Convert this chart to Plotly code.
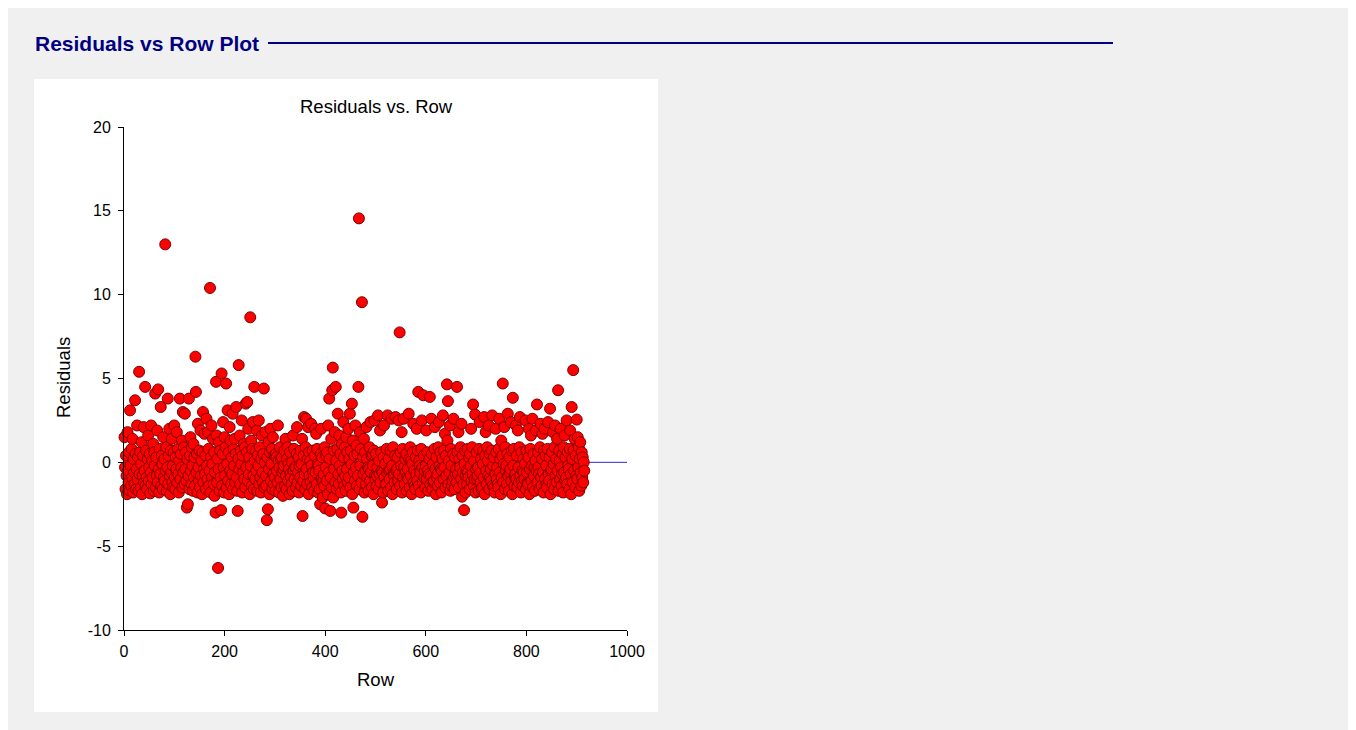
import plotly.graph_objects as go

# Residual for each row (rows 1..915)
residuals = [
    1.5, -0.3, -1.6, 0.4, -0.8, -1.9, 1.8, -0.5, -1.2, 0.6, -1.7, 3.1, -0.2, -1.4, 0.8, -0.9, 1.4, -1.8, 0.2, -0.6,
    -1.3, 3.7, 0.5, -1.6, -0.4, 2.2, -1.0, 0.3, -1.7, 5.4, -0.7, 0.6, -1.5, -0.1, 1.2, -1.9, -0.8, 0.4, 2.1, -1.2,
    -0.5, 4.5, -1.4, 0.7, -0.9, -1.6, 0.2, 1.6, -1.1, -0.3, 0.5, -1.85, -0.6, 2.2, -1.3, 0.1, -0.9, 1.1, -1.7, 0.6,
    -0.2, 4.1, -1.5, 0.3, -0.8, 1.9, -1.2, 4.35, -0.4, -1.8, 0.8, -0.7, 3.3, -1.4, 0.4, -0.1, -1.6, 1.5, -0.9, 0.2,
    -1.1, 13.0, -0.5, 0.9, -1.7, -0.3, 3.8, -1.3, 0.4, 2.0, -0.8, -1.9, 0.7, -0.6, 1.4, -1.2, -0.2, -1.5, 0.6, 2.2,
    -0.9, -1.6, 0.3, -0.4, 1.8, -1.2, 0.8, -0.7, -1.8, 0.1, 3.8, -1.0, 0.5, -0.3, 1.3, -1.5, 3.0, -0.6, 0.9, -1.3,
    2.9, -0.4, 0.6, -1.1, -2.7, 0.2, -2.5, -0.8, 3.8, -1.6, 0.4, 1.5, -0.5, -1.3, 0.9, -0.2, -1.7, 1.1, -0.9, 0.3,
    -1.4, 6.3, 4.2, -0.6, 0.5, -1.8, 2.3, -0.3, -1.1, 0.7, -1.5, 1.9, -0.8, 0.1, -1.9, 0.6, 3.0, -1.2, -0.4, 1.7,
    -0.7, 0.4, -1.6, 2.6, -0.2, -1.0, 1.8, 0.8, -1.4, -0.5, 10.4, -1.8, 0.3, 2.2, -0.9, -0.1, 1.4, -1.3, 0.6, -2.0,
    -0.6, -3.0, 4.8, 1.6, -1.2, 0.2, -6.3, -0.4, 1.2, -1.7, 0.7, -0.9, -2.85, 5.3, -1.4, 0.5, 2.4, -0.3, -1.8, 1.5,
    -0.8, 0.9, 4.7, -1.5, -0.1, 3.1, -1.1, 0.6, -1.9, 2.1, -0.5, 1.3, -1.3, 0.3, -0.7, 2.9, -1.6, 0.8, -0.2, 1.4,
    -1.2, 0.5, 3.3, -0.9, -1.7, -2.9, 0.2, 5.8, -0.4, 1.6, -1.3, 0.7, -0.1, 2.5, -1.8, 0.4, -0.6, 1.1, -1.0, 0.9,
    -1.5, 3.5, -0.3, 0.6, 3.6, -1.1, 2.0, -0.7, 0.3, -1.9, 8.65, -0.2, 1.3, -1.4, 0.8, 2.4, -0.8, -1.6, 4.5, 0.1,
    -1.0, 0.7, -0.5, 1.9, -1.7, 0.4, -0.2, 2.5, -1.3, 0.9, -0.9, -1.8, 0.2, 1.6, -0.6, -1.2, 0.5, 4.4, -1.5, 0.0,
    1.8, -0.8, -1.4, -3.45, 0.3, -2.8, 1.2, -0.4, -1.9, 0.6, 2.0, -1.1, -0.1, 0.8, -1.6, 1.5, -0.7, -1.3, 0.4, -0.9,
    -1.7, 0.5, 0.3, -0.5, -1.2, 2.2, 0.1, -1.8, -0.3, 0.9, -1.0, 0.2, -1.5, 0.3, -0.6, -2.0, -0.4, -0.2, 0.7, -1.4,
    1.4, -0.8, -1.6, 0.2, 0.9, -1.1, -0.1, -0.4, -1.9, 0.6, -0.7, -0.9, -1.3, 0.0, -1.7, 1.6, -0.5, 0.8, -1.0, -0.3,
    -0.3, -1.5, 0.5, 2.1, -1.2, -0.6, 0.3, -1.8, -0.2, -0.9, 0.7, -1.4, -0.1, 1.4, -3.2, -1.1, 0.4, 2.7, -0.7, -1.6,
    0.9, 2.6, -0.4, -1.3, 0.2, 2.1, -1.9, 0.6, -0.8, 0.1, -1.2, 2.3, -0.2, -1.5, 0.7, -0.6, -0.9, -1.7, 0.4, 2.0,
    -0.6, 1.7, -1.3, 0.8, -0.1, -1.8, -0.2, -0.5, -1.6, -2.5, 0.5, 2.0, -1.0, 0.3, -2.1, -1.1, -0.7, -1.4, 0.9, -2.75,
    -0.3, 0.4, -1.1, 0.6, -1.9, 2.2, -0.6, 3.8, 0.2, -2.9, -0.9, 1.4, -1.5, 4.3, 5.65, -2.1, 0.7, -0.4, 1.8, -1.2,
    4.5, 0.1, -1.6, 0.8, 2.9, -0.7, -1.3, 1.6, -0.2, 0.5, -1.8, -3.0, 1.1, -0.5, -1.0, 2.4, 0.3, -1.4, 0.9, -0.8,
    -1.7, 1.5, -0.4, 0.6, -1.2, 2.0, -0.9, 0.2, 2.9, -1.5, 0.7, -0.1, 3.5, -1.9, 1.3, -2.7, -0.6, 0.4, -1.1, 2.2,
    -0.3, 1.0, -1.4, 0.5, -0.8, 4.5, 14.55, -1.6, 1.8, -0.2, 0.8, -1.2, 9.55, -3.25, 0.3, -0.7, 1.4, -1.8, 0.6, -0.5,
    -1.3, 2.1, 0.2, -0.9, -0.3, -1.7, -0.4, 0.9, -1.1, 2.4, -0.6, 0.4, -1.5, 0.5, -0.2, -1.9, 0.7, 2.5, -0.8, -1.0,
    0.5, -1.4, -0.8, -0.3, 2.8, -1.6, 0.1, -0.7, 1.9, -1.2, 0.6, -0.5, -2.4, -0.6, -1.8, 0.3, 2.2, -0.9, -0.1, -1.3,
    -1.3, 0.8, -0.6, 2.8, -1.7, 0.2, -0.5, -1.0, -0.4, 0.7, -1.5, 2.6, -0.2, -1.9, 0.9, -0.7, -0.8, -1.2, 0.4, 2.7,
    -0.5, -1.6, -0.4, 0.3, -1.1, 2.5, -0.7, 7.75, -1.4, 0.6, -0.2, 1.8, -1.8, 0.8, -0.9, 2.6, -0.3, -1.3, 0.2, -0.6,
    0.5, -1.7, -0.9, -0.4, -1.0, 2.9, 0.2, -1.5, 0.9, -0.8, 0.1, -1.9, -0.1, 0.6, 2.3, -1.2, -0.5, -1.4, -1.6, 0.3,
    -0.7, 2.0, -1.1, 0.7, 4.2, -1.4, 0.1, -0.2, -0.6, -1.8, 0.8, 2.5, -0.3, -1.2, 4.0, 0.4, -0.9, -0.5, -1.5, -0.2,
    1.9, -1.0, 0.6, -0.5, -1.7, -0.7, 0.2, 3.9, -1.3, -0.8, 2.6, 0.5, -1.6, -0.1, -1.2, -1.1, 0.8, 2.1, -0.4, -1.9,
    0.3, -0.9, -0.7, -1.4, 0.9, 2.4, -0.2, -1.2, 0.6, -0.4, -1.8, -0.5, 0.2, 2.8, -1.0, 0.7, -0.3, 1.7, -1.5, 0.4,
    -0.8, 4.65, 1.3, 3.65, -1.3, 0.1, -0.6, 2.2, -1.7, 0.8, -0.2, -1.4, -1.1, 0.5, 2.6, -0.9, -1.6, 0.3, -0.7, -0.4,
    -1.2, 4.5, 0.6, -0.7, 1.8, -1.5, 0.2, -0.3, 0.9, -1.0, 2.3, -2.05, 0.4, -0.6, -1.3, -2.85, -0.1, 0.7, -1.8, -0.8,
    -0.5, -1.3, 0.8, -0.6, -0.9, 0.3, -1.6, 0.5, -0.2, 2.0, -1.1, 0.9, -0.7, 3.45, -1.4, 0.1, -1.0, 2.85, -1.8, -0.4,
    0.6, -1.0, -0.8, -0.3, -1.7, 0.8, 2.4, -0.6, -1.2, 0.2, -1.6, -1.5, -0.1, 0.7, -0.9, 2.7, -1.9, 0.4, 1.8, -0.5,
    -1.3, 0.9, 0.1, -0.8, 2.2, -1.6, 0.5, -0.9, -0.4, -1.1, 0.7, 2.8, -1.4, -0.2, 0.3, -1.5, -1.8, -0.7, 2.0, 0.6,
    -1.0, -0.3, -1.3, -1.5, 0.8, 2.6, -0.6, 0.2, -1.9, 1.3, -0.9, 0.4, 4.7, -1.2, -0.1, 2.1, -1.6, 0.9, -0.5, -0.2,
    -1.3, 0.5, 2.9, -0.8, -1.7, 0.3, -0.6, -0.4, 2.4, -1.1, 0.7, -1.9, 3.85, -0.2, 0.8, -1.4, -0.9, -0.7, 2.2, -1.0,
    0.4, -1.5, 1.9, -0.3, -1.2, 0.9, 2.7, -0.8, -1.8, 0.6, -1.1, -0.5, -1.4, 0.2, -0.6, -1.0, -0.1, 2.5, -1.6, 0.7,
    -0.6, -1.2, -1.3, 0.3, 2.0, -1.9, -0.4, 0.8, 1.6, -1.1, -0.2, 2.6, -1.5, 0.5, -0.8, -0.3, -1.7, 0.1, 1.9, -0.5,
    3.45, -1.2, 0.6, -0.3, -0.7, -1.6, 0.9, 2.3, -0.9, -1.4, 0.2, 1.7, -0.6, -1.8, 0.7, 2.0, -1.0, 0.4, -0.2, -1.3,
    -1.5, 0.8, 2.4, -0.7, -1.1, 0.3, 3.2, -1.9, -0.5, -0.4, 0.6, -1.3, 1.8, -0.1, -1.6, 0.9, 2.2, -0.8, 0.2, -1.2,
    1.4, -0.5, 4.3, -1.7, 0.7, 0.1, -1.0, 2.0, -0.3, -1.4, -0.7, 0.5, -1.8, 0.9, -0.6, 1.6, -1.1, 0.3, -0.9, 2.5,
    -1.3, 0.6, -0.2, -0.4, -1.6, 0.8, 1.9, -0.7, -1.9, 3.3, 0.2, -1.2, 5.5, 0.7, -0.5, 1.4, -1.5, 0.4, -0.8, 2.55,
    -1.0, 1.5, -0.3, 0.9, -1.7, 0.2, 1.2, -0.6, -1.4, 0.6, -0.9, 0.3, -1.2, 0.0, -0.5,
]
rows = list(range(1, len(residuals) + 1))

x_ticks = [0, 200, 400, 600, 800, 1000]
y_ticks = [-10, -5, 0, 5, 10, 15, 20]
y_tick_text = ["-10", "-5", "0", "5", "10", "15", "20"]

# the page body adds an 8px margin, so figure pixels = screen pixels - 8
W, H = 1342, 722
L, R, T, B = 116, 619, 119, 622  # plot area in figure pixels
PW, PH = R - L, B - T


def px(xpix):
    return (xpix - L) / PW


def py(ypix):
    return (B - ypix) / PH


FONT = "Liberation Sans, Arial, sans-serif"

fig = go.Figure()
fig.add_trace(go.Scatter(
    x=rows, y=residuals, mode="markers", cliponaxis=False,
    marker=dict(size=11, color="#ff0000", line=dict(color="#7a0000", width=1)),
    hoverinfo="x+y", showlegend=False,
))

shapes = [
    # white chart panel
    dict(type="rect", xref="paper", yref="paper", x0=px(26), x1=px(650), y0=py(704), y1=py(71),
         fillcolor="white", line=dict(width=0), layer="below"),
    # header rule
    dict(type="line", xref="paper", yref="paper", x0=px(260), x1=px(1105), y0=py(35), y1=py(35),
         line=dict(color="#000080", width=2)),
    # zero reference line
    dict(type="line", xref="x", yref="y", x0=0, x1=1000, y0=0, y1=0,
         line=dict(color="#2a2ad0", width=1), layer="below"),
]

annotations = [
    dict(text="<b>Residuals vs Row Plot</b>", xref="paper", yref="paper", x=px(25), y=py(35),
         xanchor="left", yanchor="middle", showarrow=False,
         font=dict(family=FONT, size=21, color="#000080")),
    dict(text="Residuals vs. Row", xref="paper", yref="paper", x=px(368), y=py(99),
         xanchor="center", yanchor="middle", showarrow=False,
         font=dict(family=FONT, size=18.5, color="black")),
    dict(text="Row", xref="paper", yref="paper", x=px(368), y=py(671),
         xanchor="center", yanchor="middle", showarrow=False,
         font=dict(family=FONT, size=18.5, color="black")),
    dict(text="Residuals", xref="paper", yref="paper", x=px(55), y=py(370), textangle=-90,
         xanchor="center", yanchor="middle", showarrow=False,
         font=dict(family=FONT, size=18.5, color="black")),
]

fig.update_layout(
    width=W, height=H,
    margin=dict(l=L, r=W - R, t=T, b=H - B, pad=0),
    paper_bgcolor="#f0f0f0", plot_bgcolor="white",
    shapes=shapes, annotations=annotations,
    font=dict(family=FONT, size=16, color="black"),
    xaxis=dict(range=[0, 1000], tickvals=x_ticks, showgrid=False, zeroline=False,
               showline=True, linecolor="black", linewidth=1, ticks="outside",
               ticklen=5, tickcolor="black", tickfont=dict(size=16), ticklabelstandoff=2),
    yaxis=dict(range=[-10, 20], tickvals=y_ticks, ticktext=y_tick_text, showgrid=False,
               zeroline=False, showline=True, linecolor="black", linewidth=1,
               ticks="outside", ticklen=5, tickcolor="black", tickfont=dict(size=16),
               ticklabelstandoff=4),
)

fig.write_html("out.html")
